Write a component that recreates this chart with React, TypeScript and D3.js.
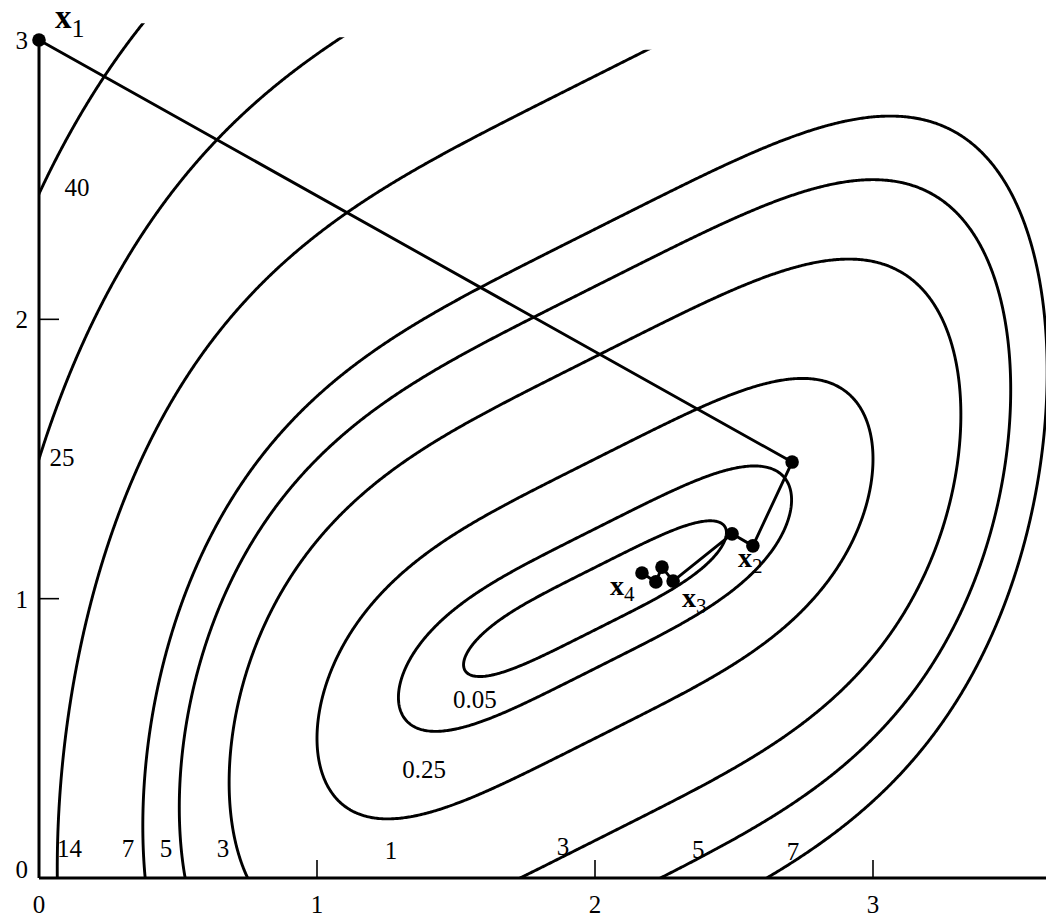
import React, { useMemo } from 'react';
import * as d3 from 'd3';

const W = 1046;
const H = 920;

// contour levels of f(x1,x2) = (x1-2)^4 + (x1-2x2)^2
const levels = [0.05, 0.25, 1, 3, 5, 7, 14, 25, 40];
// the outer contours are only drawn on the left part of the figure
const cutLevels = [14, 25, 40];
const cutTops = [2.965, 3.01, 3.06];
const cutRights = [3.0, 3.0, 3.0];

// iterates of the search (x1, x2)
const iterX = [0, 2.709, 2.568, 2.493, 2.281, 2.241, 2.219, 2.169];
const iterY = [3, 1.489, 1.189, 1.232, 1.063, 1.113, 1.06, 1.092];

// contour labels
const labelText = ['40', '25', '14', '7', '5', '3', '1', '3', '5', '7', '0.05', '0.25'];
const labelX = [0.137, 0.083, 0.11, 0.32, 0.457, 0.662, 1.266, 1.885, 2.371, 2.712, 1.568, 1.385];
const labelY = [2.474, 1.507, 0.107, 0.107, 0.107, 0.107, 0.1, 0.115, 0.104, 0.097, 0.641, 0.39];

// point annotations x_k
const annSub = ['1', '2', '3', '4'];
const annX = [0.058, 2.514, 2.313, 2.054];
const annY = [3.044, 1.113, 0.97, 1.013];

const xTickLabels = [0, 1, 2, 3];
const yTickLabels = [0, 1, 2, 3];
const xTickMarks = [1, 2, 3];
const yTickMarks = [1, 2];

function objective(a: number, b: number) {
  return Math.pow(a - 2, 4) + Math.pow(a - 2 * b, 2);
}

const FONT = '"Liberation Serif", "DejaVu Serif", serif';
const FS = 25;

export default function App() {
  const xScale = d3.scaleLinear().domain([0, 1]).range([39, 317]);
  const yScale = d3.scaleLinear().domain([0, 3]).range([878, 40]);

  const paths = useMemo(() => {
    const gx0 = -0.3, gy0 = -0.3, step = 0.005;
    const n = Math.round((4.0 - gx0) / step) + 1;
    const m = Math.round((3.6 - gy0) / step) + 1;
    const values = new Float64Array(n * m);
    for (let j = 0; j < m; j++) {
      const y = gy0 + j * step;
      for (let i = 0; i < n; i++) {
        values[j * n + i] = objective(gx0 + i * step, y);
      }
    }
    const gen = d3.contours().size([n, m]).thresholds(levels);
    const cs = gen(values as any);
    const proj = d3.geoTransform({
      point(px: number, py: number) {
        (this as any).stream.point(
          xScale(gx0 + (px - 0.5) * step),
          yScale(gy0 + (py - 0.5) * step)
        );
      },
    });
    const path = d3.geoPath(proj);
    return cs.map((c) => ({ value: c.value, d: path(c as any) || '' }));
  }, []);

  const line = d3
    .line<number>()
    .x((i) => xScale(iterX[i]))
    .y((i) => yScale(iterY[i]));
  const idx = iterX.map((_, i) => i);

  const clipId = (v: number) => {
    const k = cutLevels.indexOf(v);
    return k >= 0 ? `clip-${k}` : 'clip-main';
  };

  return (
    <svg
      width={W}
      height={H}
      style={{ position: 'absolute', left: 0, top: 0, background: '#fff' }}
      fontFamily={FONT}
    >
      <defs>
        <clipPath id="clip-main">
          <rect x={xScale(0)} y={0} width={W - xScale(0)} height={yScale(0)} />
        </clipPath>
        {cutTops.map((t, k) => (
          <clipPath id={`clip-${k}`} key={k}>
            <rect
              x={xScale(0)}
              y={yScale(t)}
              width={xScale(cutRights[k]) - xScale(0)}
              height={yScale(0) - yScale(t)}
            />
          </clipPath>
        ))}
      </defs>
      <rect x={0} y={0} width={W} height={H} fill="#fff" />
      {paths.map((p) => (
        <path
          key={p.value}
          d={p.d}
          fill="none"
          stroke="#000"
          strokeWidth={2.9}
          strokeLinejoin="round"
          clipPath={`url(#${clipId(p.value)})`}
        />
      ))}
      {/* axes */}
      <line x1={xScale(0)} y1={yScale(0)} x2={xScale(0)} y2={yScale(3)} stroke="#000" strokeWidth={3} />
      <line x1={xScale(0)} y1={yScale(0)} x2={W} y2={yScale(0)} stroke="#000" strokeWidth={3} />
      {xTickMarks.map((t) => (
        <line key={t} x1={xScale(t)} x2={xScale(t)} y1={yScale(0)} y2={yScale(0) - 18} stroke="#000" strokeWidth={1.6} />
      ))}
      {yTickMarks.map((t) => (
        <line key={t} x1={xScale(0)} x2={xScale(0) + 20} y1={yScale(t)} y2={yScale(t)} stroke="#000" strokeWidth={1.6} />
      ))}
      {xTickLabels.map((t) => (
        <text key={t} x={xScale(t)} y={yScale(0) + 35} fontSize={FS} textAnchor="middle">
          {t}
        </text>
      ))}
      {yTickLabels.map((t) => (
        <text
          key={t}
          x={xScale(0) - 11}
          y={yScale(t) + (t === 0 ? 0 : 9)}
          fontSize={FS}
          textAnchor="end"
        >
          {t}
        </text>
      ))}
      {/* search path */}
      <path d={line(idx) || ''} fill="none" stroke="#000" strokeWidth={2.9} strokeLinejoin="round" />
      {idx.map((i) => (
        <circle key={i} cx={xScale(iterX[i])} cy={yScale(iterY[i])} r={6.8} fill="#000" />
      ))}
      {/* contour labels */}
      {labelText.map((t, i) => (
        <text key={i} x={xScale(labelX[i])} y={yScale(labelY[i])} dy="0.35em" fontSize={FS} textAnchor="middle">
          {t}
        </text>
      ))}
      {/* iterate labels */}
      {annSub.map((s, i) => (
        <text key={s} x={xScale(annX[i])} y={yScale(annY[i])}>
          <tspan fontWeight="bold" fontSize={i === 0 ? 33 : 28}>x</tspan>
          <tspan fontSize={i === 0 ? 26 : 21} dy={i === 0 ? 9 : 6}>
            {s}
          </tspan>
        </text>
      ))}
    </svg>
  );
}
